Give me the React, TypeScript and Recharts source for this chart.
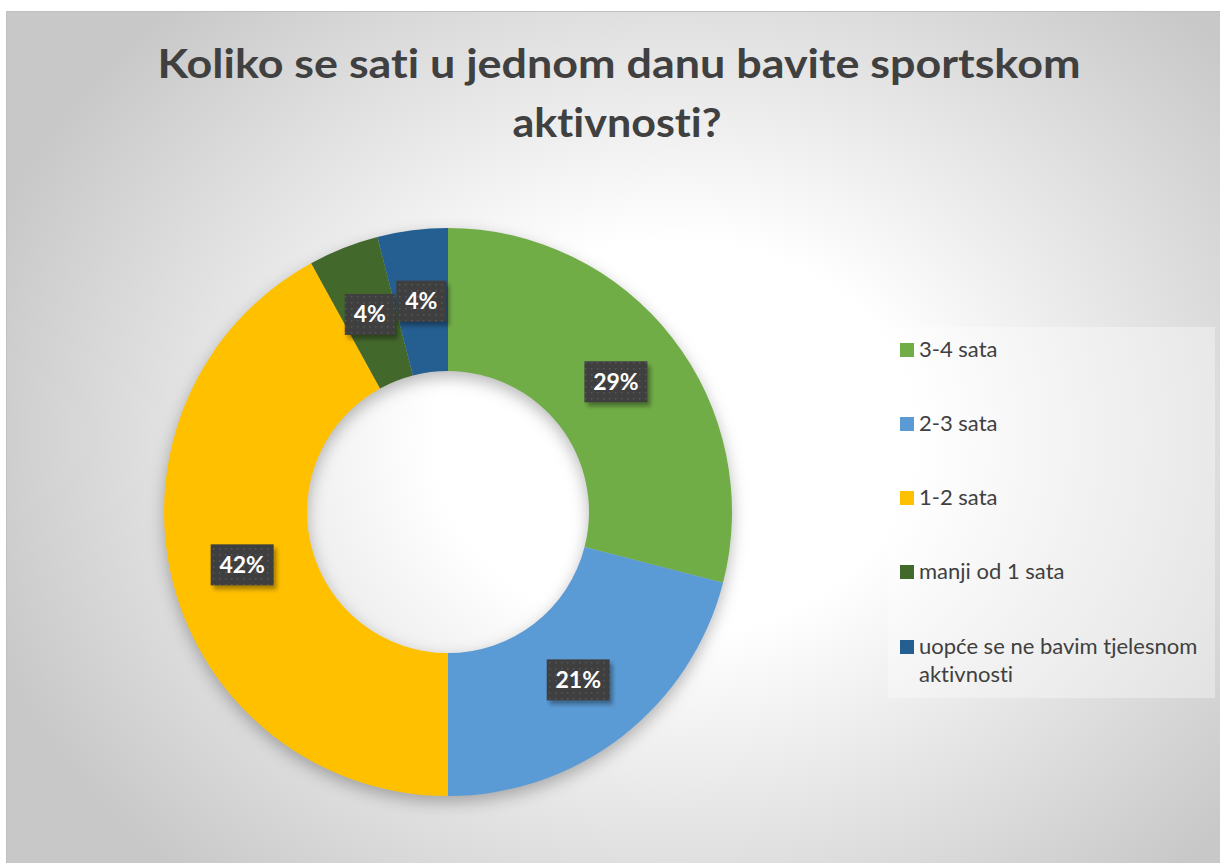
import { Legend, Pie, PieChart, Cell } from "recharts";

const categories = ["3-4 sata", "2-3 sata", "1-2 sata", "manji od 1 sata", "uopće se ne bavim tjelesnom aktivnosti"];
const shares = [29, 21, 42, 4, 4];
const colors = ["#70AD47", "#5B9BD5", "#FFC000", "#43682B", "#255E91"];
const titleLines = ["Koliko se sati u jednom danu bavite sportskom", "aktivnosti?"];
// legend text wrapped the way the original shows it
const legendLines = [["3-4 sata"], ["2-3 sata"], ["1-2 sata"], ["manji od 1 sata"], ["uopće se ne bavim tjelesnom", "aktivnosti"]];

const data = categories.map((name, i) => ({ name, value: shares[i] }));

const W = 1214;
const H = 852;
const RAD = Math.PI / 180;
const FONT = "Lato, 'Open Sans', sans-serif";

function renderLabel(props: any) {
  const { cx, cy, midAngle, innerRadius, outerRadius, value } = props;
  const r = (innerRadius + outerRadius) / 2;
  const x = cx + r * Math.cos(-midAngle * RAD);
  const y = cy + r * Math.sin(-midAngle * RAD);
  const text = `${value}%`;
  const w = text.length === 2 ? 50 : 63;
  const h = 41;
  return (
    <g>
      <rect x={x - w / 2 + 3} y={y - h / 2 + 4} width={w} height={h} fill="rgba(0,0,0,0.35)" filter="url(#lblShadow)" />
      <rect x={x - w / 2} y={y - h / 2} width={w} height={h} fill="url(#dots)" />
      <text x={x} y={y + 8} textAnchor="middle" fill="#ffffff" fontFamily={FONT} fontWeight={700} fontSize={23}>
        {text}
      </text>
    </g>
  );
}

// baselines (legend-box coords) of each entry's first line
const legendBase = [30, 104, 178, 252, 327];

function renderLegend() {
  return (
    <svg width={327} height={371} style={{ display: "block" }}>
      <rect x={0} y={0} width={327} height={371} fill="rgba(255,255,255,0.35)" />
      {categories.map((name, i) => (
        <g key={name}>
          <rect x={12} y={legendBase[i] - 14} width={14} height={14} fill={colors[i]} />
          {legendLines[i].map((ln, j) => (
            <text key={j} x={31} y={legendBase[i] + j * 28} fill="#404040" fontFamily={FONT} fontSize={22}>
              {ln}
            </text>
          ))}
        </g>
      ))}
    </svg>
  );
}

export default function App() {
  return (
    <div
      style={{
        position: "absolute",
        left: 6,
        top: 11,
        width: W,
        height: H,
        background: "radial-gradient(ellipse 60% 70% at 55% 50%, #ffffff 0%, #ffffff 33%, #c8c8c8 100%)",
        borderTop: "1px solid #c0c0c0",
        borderLeft: "1px solid #c0c0c0",
        boxSizing: "border-box",
      }}
    >
      <style>{`.recharts-pie { filter: drop-shadow(0 6px 8px rgba(0,0,0,0.28)); } text { font-variant-ligatures: none; font-feature-settings: "liga" 0; }`}</style>
      <svg width={W} height={160} style={{ position: "absolute", left: 0, top: 0 }}>
        <text
          x={612}
          y={66}
          textAnchor="middle"
          fill="#404040"
          fontFamily={FONT}
          fontWeight={700}
          fontSize={41}
          textLength={923}
          lengthAdjust="spacingAndGlyphs"
        >
          {titleLines[0]}
        </text>
        <text
          x={610}
          y={125}
          textAnchor="middle"
          fill="#404040"
          fontFamily={FONT}
          fontWeight={700}
          fontSize={41}
          textLength={209}
          lengthAdjust="spacingAndGlyphs"
        >
          {titleLines[1]}
        </text>
      </svg>
      <div style={{ position: "absolute", left: 0, top: 0 }}>
        <PieChart width={W} height={H} margin={{ top: 0, right: 0, bottom: 0, left: 0 }}>
          <defs>
            <pattern id="dots" width="6" height="6" patternUnits="userSpaceOnUse">
              <rect width="6" height="6" fill="#3f3f3f" />
              <rect x="2" y="2" width="1.5" height="1.5" fill="#575757" />
            </pattern>
            <filter id="lblShadow" x="-20%" y="-20%" width="140%" height="140%">
              <feGaussianBlur stdDeviation="2" />
            </filter>
          </defs>
          <Pie
            data={data}
            dataKey="value"
            nameKey="name"
            cx={441}
            cy={500}
            innerRadius={141}
            outerRadius={284}
            startAngle={90}
            endAngle={-270}
            stroke="none"
            label={renderLabel}
            labelLine={false}
            isAnimationActive={false}
          >
            {data.map((d, i) => (
              <Cell key={d.name} fill={colors[i]} />
            ))}
          </Pie>
          <Legend
            content={renderLegend}
            wrapperStyle={{ position: "absolute", left: 881, top: 315, width: 327, height: 371 }}
          />
        </PieChart>
      </div>
    </div>
  );
}
